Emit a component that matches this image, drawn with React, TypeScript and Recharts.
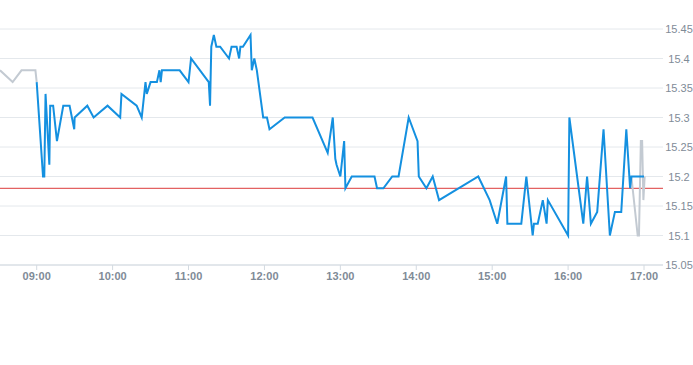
import React from "react"
import { CartesianGrid, Line, LineChart, ReferenceLine, XAxis, YAxis } from "recharts"

// pre-market (grey)
const preTimes = ["08:31", "08:41", "08:48", "08:59", "09:00"]
const prePrices = [15.38, 15.36, 15.38, 15.38, 15.36]

// regular session (blue)
const mainTimes = [
  "09:00", "09:05", "09:06", "09:07", "09:10", "09:10:40", "09:13", "09:16", "09:21", "09:26",
  "09:29:40", "09:30", "09:40", "09:45", "09:56", "10:06", "10:07", "10:19", "10:23", "10:26",
  "10:27", "10:30", "10:35", "10:37", "10:38", "10:39", "10:53", "11:00", "11:02", "11:16",
  "11:17", "11:18", "11:20", "11:22", "11:25", "11:32", "11:34", "11:38", "11:40", "11:41",
  "11:43", "11:49", "11:50", "11:52", "11:54", "11:59", "12:02", "12:04", "12:16", "12:38",
  "12:50", "12:54", "12:56", "12:57", "13:00", "13:03", "13:04", "13:09", "13:27", "13:29",
  "13:34", "13:41", "13:46", "13:54", "14:01", "14:02", "14:08", "14:13", "14:18", "14:49",
  "14:58", "15:04", "15:11", "15:12", "15:23", "15:27", "15:32", "15:33", "15:36", "15:40",
  "15:43", "15:44", "16:00", "16:01", "16:12", "16:15", "16:18", "16:23", "16:28", "16:33",
  "16:37", "16:42", "16:46", "16:49", "16:50", "17:00",
]
const mainPrices = [
  15.36, 15.2, 15.2, 15.34, 15.22, 15.32, 15.32, 15.26, 15.32, 15.32,
  15.28, 15.3, 15.32, 15.3, 15.32, 15.3, 15.34, 15.32, 15.3, 15.36,
  15.34, 15.36, 15.36, 15.38, 15.36, 15.38, 15.38, 15.36, 15.4, 15.36,
  15.32, 15.42, 15.44, 15.42, 15.42, 15.4, 15.42, 15.42, 15.4, 15.42,
  15.42, 15.44, 15.38, 15.4, 15.38, 15.3, 15.3, 15.28, 15.3, 15.3,
  15.24, 15.3, 15.23, 15.22, 15.2, 15.26, 15.18, 15.2, 15.2, 15.18,
  15.18, 15.2, 15.2, 15.3, 15.26, 15.2, 15.18, 15.2, 15.16, 15.2,
  15.16, 15.12, 15.2, 15.12, 15.12, 15.2, 15.1, 15.12, 15.12, 15.16,
  15.12, 15.16, 15.1, 15.3, 15.12, 15.2, 15.12, 15.14, 15.28, 15.1,
  15.14, 15.14, 15.28, 15.18, 15.2, 15.2,
]

// after-hours (grey)
const postTimes = ["16:50", "16:55", "16:56", "16:57:30", "16:58:30", "16:59:30", "17:00:30"]
const postPrices = [15.2, 15.1, 15.1, 15.26, 15.26, 15.16, 15.2]

const prevClose = 15.18
const xTicks = ["09:00", "10:00", "11:00", "12:00", "13:00", "14:00", "15:00", "16:00", "17:00"]
const yTicks = [15.05, 15.1, 15.15, 15.2, 15.25, 15.3, 15.35, 15.4, 15.45]

const toMin = (t: string) => {
  const [h, m, s = "0"] = t.split(":")
  return Number(h) * 60 + Number(m) + Number(s) / 60
}
const pad = (n: number) => String(n).padStart(2, "0")
const fmtTime = (v: number) => `${pad(Math.floor(v / 60))}:${pad(Math.round(v % 60))}`

const build = (times: string[], prices: number[]) =>
  times.map((t, i) => ({ t: toMin(t), price: prices[i] }))

const preData = build(preTimes, prePrices)
const mainData = build(mainTimes, mainPrices)
const postData = build(postTimes, postPrices)

const labelColor = "#7f8b97"

const PriceTick = (props: any) => {
  const { y, payload } = props
  return (
    <text x={679} y={y} textAnchor="middle" dominantBaseline="central" fill={labelColor} fontSize={11}>
      {payload.value}
    </text>
  )
}

export default function App() {
  return (
    <div style={{ position: "absolute", left: 0, top: 0, width: 693, height: 365, fontFamily: "'Liberation Sans', Arial, sans-serif" }}>
      <LineChart width={693} height={365} margin={{ top: 29, right: 0, left: 0, bottom: 70 }}>
        <CartesianGrid vertical={false} stroke="#e4e8ec" />
        <XAxis
          dataKey="t"
          type="number"
          domain={[511, 1035]}
          allowDataOverflow
          ticks={xTicks.map(toMin)}
          tickFormatter={fmtTime}
          height={30}
          stroke="#d3dae1"
          tickSize={5}
          tick={{ fill: labelColor, fontSize: 11, fontWeight: "bold" }}
        />
        <YAxis
          orientation="right"
          type="number"
          domain={[15.05, 15.45]}
          ticks={yTicks}
          width={30}
          axisLine={false}
          tickLine={false}
          tick={<PriceTick />}
        />
        <ReferenceLine y={prevClose} stroke="#dd3b3b" strokeWidth={1} />
        <Line data={preData} dataKey="price" stroke="#c3cad2" strokeWidth={2} dot={false} isAnimationActive={false} />
        <Line data={postData} dataKey="price" stroke="#c3cad2" strokeWidth={2} dot={false} isAnimationActive={false} />
        <Line data={mainData} dataKey="price" stroke="#1490e0" strokeWidth={2} dot={false} isAnimationActive={false} />
      </LineChart>
    </div>
  )
}
